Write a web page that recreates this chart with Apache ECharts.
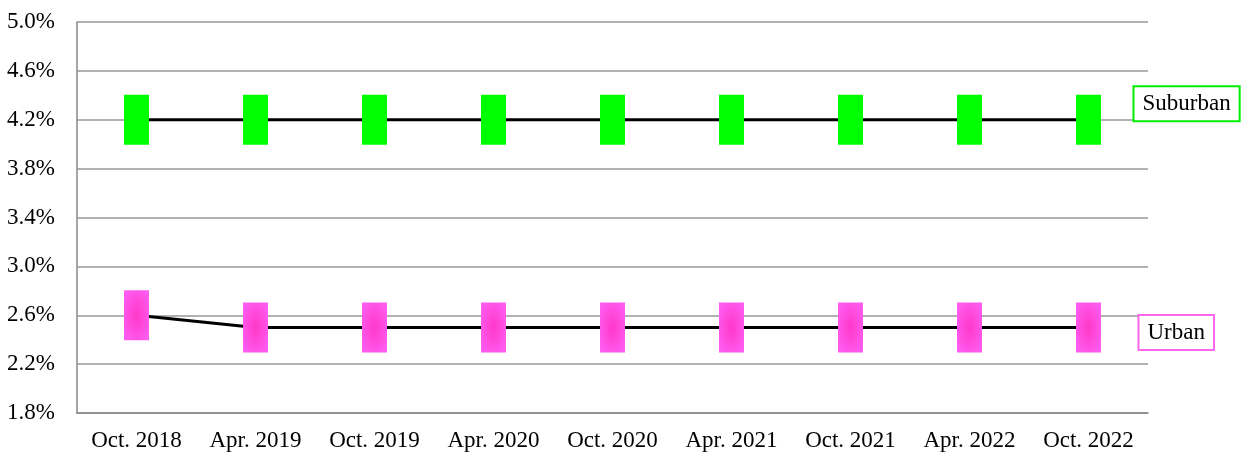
<!DOCTYPE html>
<html>
<head>
<meta charset="utf-8">
<script src="https://cdn.jsdelivr.net/npm/echarts@6/dist/echarts.min.js"></script>
<style>
  html, body { margin: 0; padding: 0; background: #fff; }
  #chart { width: 1251px; height: 454px; }
</style>
</head>
<body>
<div id="chart"></div>
<script>
// Survey periods along the x axis
const categories = ['Oct. 2018', 'Apr. 2019', 'Oct. 2019', 'Apr. 2020', 'Oct. 2020',
                    'Apr. 2021', 'Oct. 2021', 'Apr. 2022', 'Oct. 2022'];
// Rates in percent
const suburban = [4.2, 4.2, 4.2, 4.2, 4.2, 4.2, 4.2, 4.2, 4.2];
const urban = [2.6, 2.5, 2.5, 2.5, 2.5, 2.5, 2.5, 2.5, 2.5];

const FONT = '"Liberation Serif", "Times New Roman", serif';
const FONT_SIZE = 23;

const chart = echarts.init(document.getElementById('chart'));

const pinkFill = {
  type: 'radial', x: 0.5, y: 0.5, r: 0.6,
  colorStops: [
    { offset: 0, color: '#ff38c8' },
    { offset: 1, color: '#ff5cf0' }
  ]
};

chart.setOption({
  animation: false,
  backgroundColor: '#fff',
  grid: { left: 77, right: 103, top: 22, bottom: 41 },
  xAxis: {
    type: 'category',
    data: categories,
    boundaryGap: true,
    axisLine: { lineStyle: { color: '#888', width: 1.5 } },
    axisTick: { show: false },
    axisLabel: {
      interval: 0, hideOverlap: false,
      color: '#000', fontFamily: FONT, fontSize: FONT_SIZE, margin: 16
    }
  },
  yAxis: {
    type: 'value',
    min: 1.8, max: 5.0, interval: 0.4,
    axisLine: { show: true, lineStyle: { color: '#888', width: 1.5 } },
    axisTick: { show: false },
    splitLine: { lineStyle: { color: '#999', width: 1.5 } },
    axisLabel: {
      color: '#000', fontFamily: FONT, fontSize: FONT_SIZE, margin: 22,
      formatter: v => v.toFixed(1) + '%'
    }
  },
  series: [
    {
      name: 'Suburban',
      type: 'line',
      data: suburban,
      symbol: 'rect',
      symbolSize: [25, 50],
      itemStyle: { color: '#00ff00' },
      lineStyle: { color: '#000', width: 3 },
      endLabel: {
        show: true,
        formatter: '{a}',
        fontFamily: FONT, fontSize: FONT_SIZE, color: '#000',
        borderColor: '#00ee00', borderWidth: 2,
        backgroundColor: '#fff',
        padding: [5, 8, 5, 8],
        distance: 0,
        offset: [46, -16]
      }
    },
    {
      name: 'Urban',
      type: 'line',
      data: urban,
      symbol: 'rect',
      symbolSize: [25, 50],
      itemStyle: { color: pinkFill },
      lineStyle: { color: '#000', width: 3 },
      endLabel: {
        show: true,
        formatter: '{a}',
        fontFamily: FONT, fontSize: FONT_SIZE, color: '#000',
        borderColor: '#ff66ee', borderWidth: 2,
        backgroundColor: '#fff',
        padding: [5, 8, 5, 8],
        distance: 0,
        offset: [51, 5]
      }
    }
  ]
});
</script>
</body>
</html>
